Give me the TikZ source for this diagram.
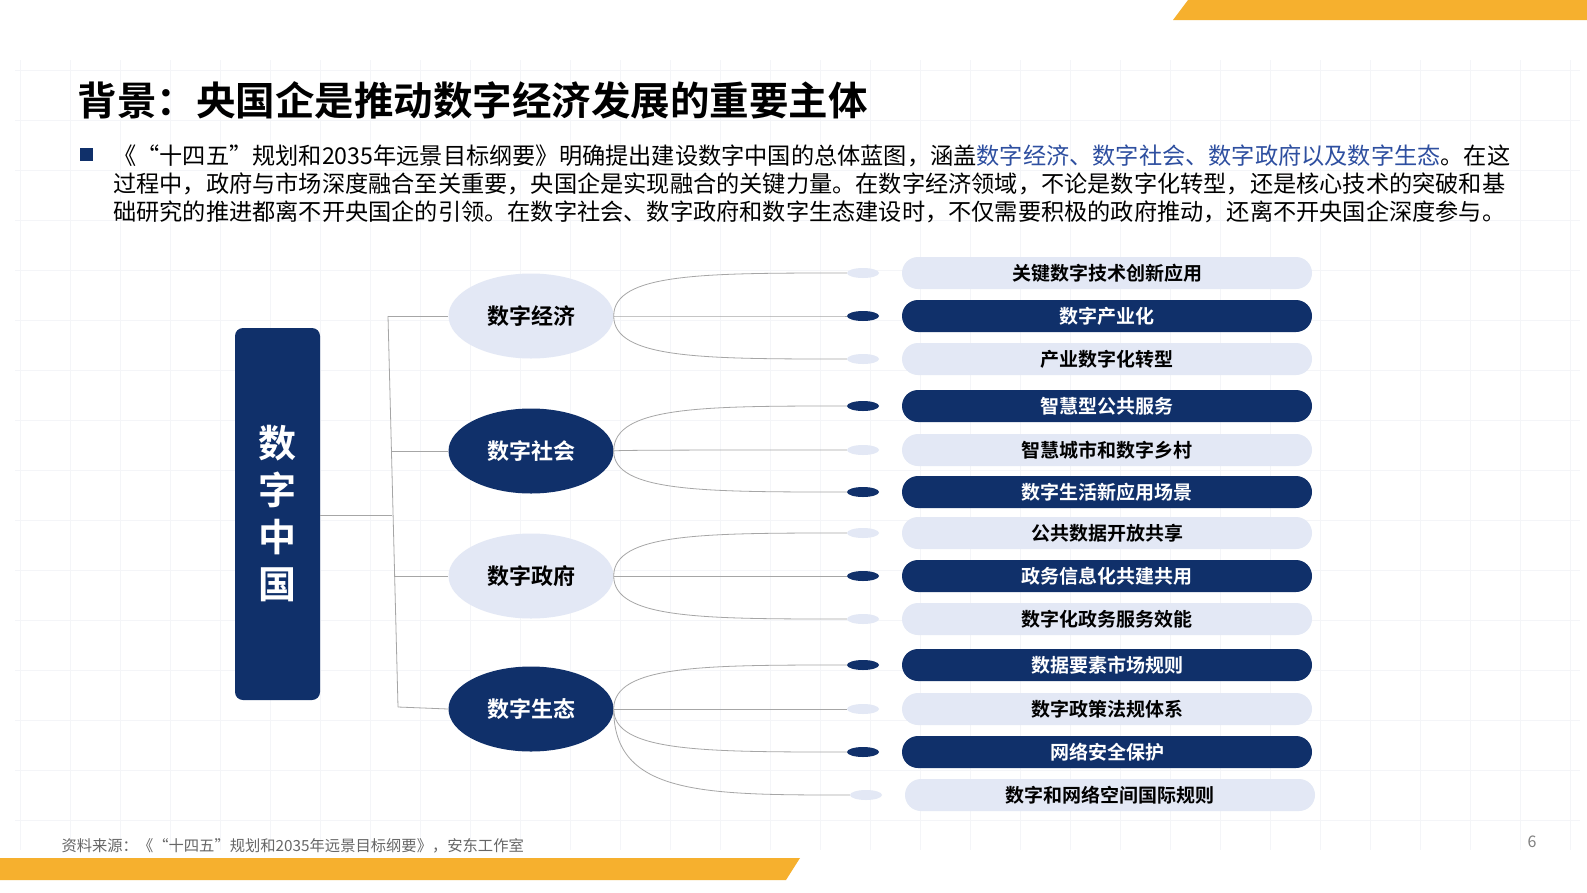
\documentclass[tikz,border=0pt]{standalone}
\usepackage{fontspec}
\usetikzlibrary{shapes.misc,shapes.geometric,calc}
\setmainfont{Noto Sans CJK SC}
\newfontfamily\cjkb{Noto Sans CJK SC Bold}
\definecolor{navy}{HTML}{10306A}
\definecolor{pale}{HTML}{E3E8F5}
\definecolor{orng}{HTML}{F6B02E}
\definecolor{hl}{HTML}{2E4FA0}
\definecolor{gridc}{HTML}{F4F5F8}
\begin{document}
\begin{tikzpicture}[x=1pt,y=-1pt,
  pilld/.style={rounded rectangle,fill=navy,text=white,minimum width=410pt,minimum height=32pt,inner sep=0pt,font=\cjkb\fontsize{19}{19}\selectfont},
  pilll/.style={pilld,fill=pale,text=black},
  dotd/.style={ellipse,fill=navy,minimum width=32pt,minimum height=10pt,inner sep=0pt},
  dotl/.style={dotd,fill=pale},
  elld/.style={ellipse,fill=navy,text=white,minimum width=165pt,minimum height=85pt,font=\cjkb\fontsize{22}{22}\selectfont},
  elll/.style={elld,fill=pale,text=black},
  conn/.style={draw=gray!70,line width=0.8pt}]
\fill[white] (0,0) rectangle (1587,892);
\foreach \x in {20,70,...,1570} \draw[gridc] (\x,60) -- (\x,850);
\foreach \y in {70,120,...,850} \draw[gridc] (15,\y) -- (1580,\y);
\fill[orng] (1188,0) -- (1587,0) -- (1587,20) -- (1173,20) -- cycle;
\fill[orng] (0,858) -- (800,858) -- (786,880) -- (0,880) -- cycle;
\node[anchor=west,font=\cjkb\fontsize{39.5}{40}\selectfont] (title) at (74,100) {背景：央国企是推动数字经济发展的重要主体};
\fill[navy] (80,148) rectangle (93,161);
\node[anchor=west,font=\fontsize{23.2}{24}\selectfont,inner sep=0pt] (t1) at (113,156) {《“十四五”规划和2035年远景目标纲要》明确提出建设数字中国的总体蓝图，涵盖\textcolor{hl}{数字经济、数字社会、数字政府以及数字生态}。在这};
\node[anchor=west,font=\fontsize{23.2}{24}\selectfont,inner sep=0pt] (t2) at (113,184) {过程中，政府与市场深度融合至关重要，央国企是实现融合的关键力量。在数字经济领域，不论是数字化转型，还是核心技术的突破和基};
\node[anchor=west,font=\fontsize{23.2}{24}\selectfont,inner sep=0pt] (t3) at (113,212) {础研究的推进都离不开央国企的引领。在数字社会、数字政府和数字生态建设时，不仅需要积极的政府推动，还离不开央国企深度参与。};
\node[rounded corners=8pt,fill=navy,minimum width=85pt,minimum height=372pt,text=white,font=\cjkb\fontsize{38}{47}\selectfont,align=center] (cn) at (277.5,514) {数\\字\\中\\国};
\node[elll] (e1) at (531,316) {数字经济};
\node[elld] (e2) at (531,451) {数字社会};
\node[elll] (e3) at (531,576) {数字政府};
\node[elld] (e4) at (531,709) {数字生态};
\coordinate (j) at (392,515);
\draw[conn] (cn.east |- j) -- (j);
\draw[conn] (388,316) -- (398,707);
\draw[conn] (388,316) -- (e1.west);
\draw[conn] (391,451) -- (e2.west);
\draw[conn] (394,576) -- (e3.west);
\draw[conn] (398,707) -- (e4.west);
\foreach \i/\y/\s/\t in {1/273/l/关键数字技术创新应用,2/316/d/数字产业化,3/359/l/产业数字化转型,4/406/d/智慧型公共服务,5/450/l/智慧城市和数字乡村,6/492/d/数字生活新应用场景,7/533/l/公共数据开放共享,8/576/d/政务信息化共建共用,9/619/l/数字化政务服务效能,10/665/d/数据要素市场规则,11/709/l/数字政策法规体系,12/752/d/网络安全保护}{
  \node[pill\s] (p\i) at (1107,\y) {\t};
  \node[dot\s] (d\i) at (863,\y) {};
}
\node[pilll] (p13) at (1110,795) {数字和网络空间国际规则};
\node[dotl] (d13) at (866,795) {};
\foreach \e/\list in {e1/{1,2,3},e2/{4,5,6},e3/{7,8,9},e4/{10,11,12,13}}{
  \foreach \k in \list {
    \draw[conn] (\e.east) .. controls ($(\e.east |- d\k.west)+(0,0)$) and ($(\e.east |- d\k.west)+(90,0)$) .. (d\k.west);
  }
}
\node[anchor=west,text=gray!80!black,font=\fontsize{15.3}{16}\selectfont] (src) at (58,846) {资料来源：《“十四五”规划和2035年远景目标纲要》，安东工作室};
\node[text=gray,font=\fontsize{16}{16}\selectfont] (pg) at (1532,842) {6};
\pgfresetboundingbox
\useasboundingbox (0,0) rectangle (1587,892);
\end{tikzpicture}
\end{document}
